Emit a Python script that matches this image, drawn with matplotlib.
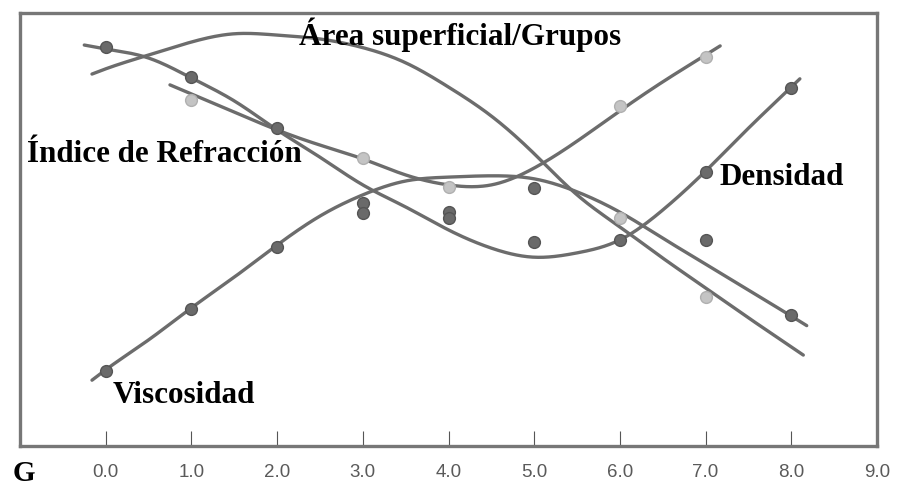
import numpy as np
import matplotlib
matplotlib.use('Agg')
import matplotlib.pyplot as plt

# curves (G on x, arbitrary units 0-10 on y)
x_area = [-0.16, 0.0, 0.5, 1.0, 1.5, 2.0, 2.5, 3.0, 3.5, 4.0, 4.5, 5.0, 5.5, 6.0, 6.5, 7.0, 7.5, 8.0, 8.14]
y_area = [8.59, 8.71, 9.03, 9.33, 9.52, 9.49, 9.40, 9.20, 8.85, 8.29, 7.62, 6.75, 5.80, 5.06, 4.34, 3.65, 2.96, 2.29, 2.10]

x_dens = [-0.25, 0.0, 0.5, 1.0, 1.5, 2.0, 2.5, 3.0, 3.5, 4.0, 4.5, 5.0, 5.5, 6.0, 6.5, 7.0, 7.5, 8.0, 8.1]
y_dens = [9.26, 9.17, 8.96, 8.50, 7.97, 7.30, 6.67, 6.03, 5.52, 4.99, 4.57, 4.36, 4.46, 4.76, 5.45, 6.35, 7.34, 8.29, 8.48]

x_visc = [-0.16, 0.0, 0.5, 1.0, 1.5, 2.0, 2.5, 3.0, 3.5, 4.0, 4.5, 5.0, 5.5, 6.0, 6.5, 7.0, 7.5, 8.0, 8.18]
y_visc = [1.52, 1.76, 2.45, 3.19, 3.90, 4.64, 5.31, 5.80, 6.12, 6.21, 6.24, 6.17, 5.87, 5.40, 4.80, 4.20, 3.60, 3.00, 2.78]

x_indice = [0.75, 1.0, 1.5, 2.0, 2.5, 3.0, 3.5, 4.0, 4.5, 5.0, 5.5, 6.0, 6.5, 7.0, 7.17]
y_indice = [8.34, 8.13, 7.71, 7.30, 6.95, 6.63, 6.26, 6.03, 6.03, 6.42, 7.04, 7.74, 8.41, 9.03, 9.24]

# measured points
x_dark = [0, 1, 2, 0, 1, 2, 3, 3, 4, 4, 5, 5, 6, 7, 7, 8, 8]
y_dark = [9.21, 8.52, 7.34, 1.73, 3.16, 4.60, 5.61, 5.38, 5.40, 5.27, 5.96, 4.71, 4.76, 6.33, 4.76, 8.27, 3.03]
x_light = [1, 3, 4, 6, 7, 7, 6]
y_light = [7.99, 6.65, 5.98, 7.85, 8.98, 3.44, 5.27]

g_ticks = [0, 1, 2, 3, 4, 5, 6, 7, 8, 9]
g_labels = ['0.0', '1.0', '2.0', '3.0', '4.0', '5.0', '6.0', '7.0', '8.0', '9.0']


def smooth(xs, ys, n=400):
    # natural cubic spline through the read points, only for drawing the line
    x = np.asarray(xs, float)
    y = np.asarray(ys, float)
    k = len(x)
    h = np.diff(x)
    A = np.zeros((k, k))
    b = np.zeros(k)
    A[0, 0] = A[-1, -1] = 1
    for i in range(1, k - 1):
        A[i, i - 1] = h[i - 1]
        A[i, i] = 2 * (h[i - 1] + h[i])
        A[i, i + 1] = h[i]
        b[i] = 6 * ((y[i + 1] - y[i]) / h[i] - (y[i] - y[i - 1]) / h[i - 1])
    m = np.linalg.solve(A, b)
    xx = np.linspace(x[0], x[-1], n)
    j = np.clip(np.searchsorted(x, xx) - 1, 0, k - 2)
    t = xx - x[j]
    hj = h[j]
    a = (m[j + 1] - m[j]) / (6 * hj)
    c = (y[j + 1] - y[j]) / hj - hj * (2 * m[j] + m[j + 1]) / 6
    yy = y[j] + c * t + m[j] / 2 * t ** 2 + a * t ** 3
    return xx, yy


fig = plt.figure(figsize=(8.98, 4.86), dpi=100)
ax = fig.add_axes([20 / 898, 40 / 486, 857 / 898, 433 / 486])

line_col = '#6c6c6c'
for xs, ys in [(x_area, y_area), (x_dens, y_dens), (x_visc, y_visc), (x_indice, y_indice)]:
    sx, sy = smooth(xs, ys)
    ax.plot(sx, sy, color=line_col, lw=2.4, solid_capstyle='round', zorder=2)

ax.plot(x_light, y_light, 'o', ms=8.5, color='#c4c4c4', mec='#b0b0b0', mew=1, zorder=3)
ax.plot(x_dark, y_dark, 'o', ms=8.5, color='#6a6a6a', mec='#555555', mew=1, zorder=3)

ax.set_xlim(-1, 9)
ax.set_ylim(0, 10)
ax.set_yticks([])
ax.set_xticks(g_ticks)
ax.set_xticklabels(g_labels, fontfamily='Liberation Sans')
ax.tick_params(axis='x', direction='in', length=11, width=0.8, color='#555555',
               labelcolor='#5a5a5a', labelsize=13.5, pad=13)
for s in ax.spines.values():
    s.set_color('#777777')
    s.set_linewidth(2.4)

lab = dict(fontfamily='Liberation Serif', fontweight='bold', fontsize=22.4, color='black', va='baseline')
ax.text(2.26, 9.26, 'Área superficial/Grupos', **lab)
ax.text(-0.92, 6.56, 'Índice de Refracción', **lab)
ax.text(7.16, 6.03, 'Densidad', **lab)
ax.text(0.08, 0.99, 'Viscosidad', **lab)
fig.text(13 / 898, 5 / 486, 'G', fontfamily='Liberation Serif', fontweight='bold',
         fontsize=21, va='baseline')

fig.savefig('out.png', dpi=100)
